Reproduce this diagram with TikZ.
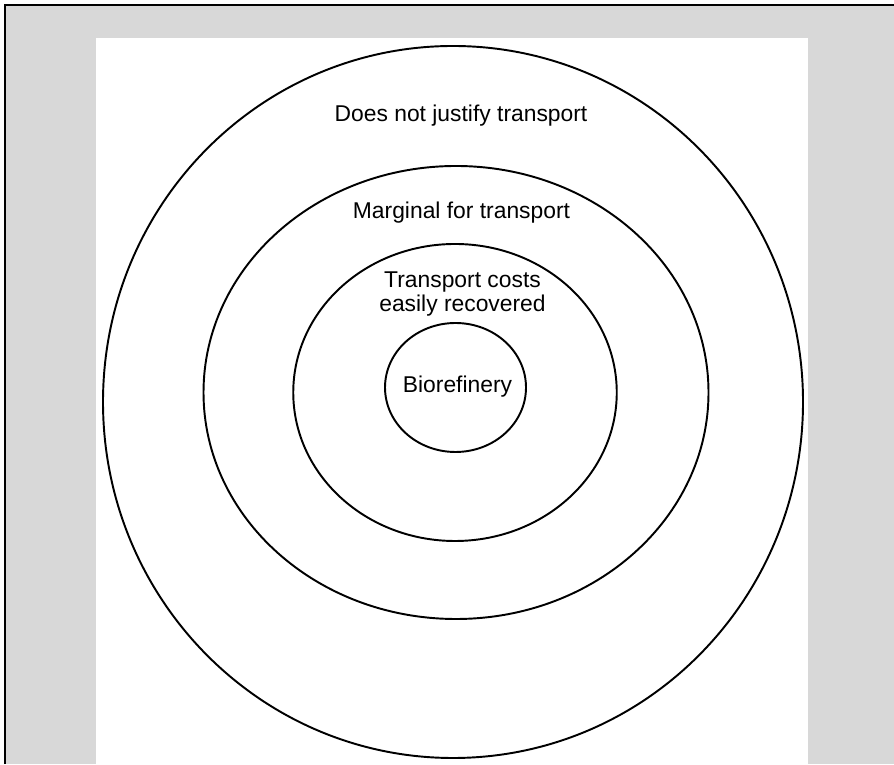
\documentclass[tikz,border=0pt]{standalone}
\usepackage{fontspec}
\setmainfont{Liberation Sans}
\usepackage{tikz}
\usetikzlibrary{positioning,shapes.geometric}
\definecolor{panelgray}{RGB}{216,216,216}
\tikzset{
  ring/.style={draw, ellipse, line width=1.1pt, inner sep=0pt},
  zonelabel/.style={font=\fontsize{13}{14.2}\selectfont, anchor=base, align=center, inner sep=0pt}
}

\begin{document}
\begin{tikzpicture}
      \useasboundingbox (0,0) rectangle (17.88,15.28);
      % frame and panel
      \fill[panelgray] (0.1,0) rectangle (17.88,15.18);
      \draw[line width=0.05cm] (0.1,0) -- (0.1,15.18) -- (17.88,15.18);
      \fill[white] (1.92,0) rectangle (16.16,14.52);
      % zones
      \node[ring, minimum width=14cm, minimum height=14.24cm] (outer) at (9.06,7.24) {};
      \node[ring, minimum width=10.1cm, minimum height=9.06cm] (marginal) at (9.12,7.43) {};
      \node[ring, minimum width=6.47cm, minimum height=5.94cm] (easy) at (9.10,7.43) {};
      \node[ring, minimum width=2.82cm, minimum height=2.58cm] (plant) at (9.11,7.53) {};
      \node[zonelabel] (outertxt) at (9.22,12.84) {Does not justify transport};
      \node[zonelabel] (margtxt) at (9.23,10.90) {Marginal for transport};
      \node[zonelabel] (easytxt) at (9.25,9.04) {Transport costs\\ easily recovered};
      \node[zonelabel] (planttxt) at (9.15,7.42) {Biorefinery};
    \end{tikzpicture}
\end{document}
